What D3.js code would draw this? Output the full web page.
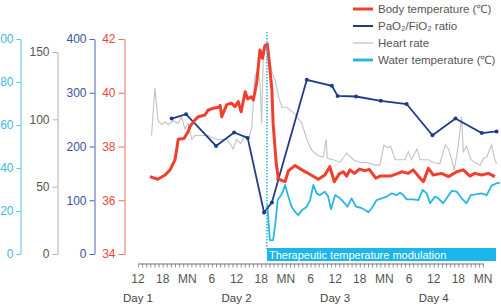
<!DOCTYPE html>
<html lang="en">
<head>
<meta charset="UTF-8">
<title>Vital signs during TTM</title>
<script src="https://d3js.org/d3.v7.min.js"></script>
<style>
    body { margin: 0; background: #fff; overflow: hidden; }
    svg { font-family: "Liberation Sans", Arial, sans-serif; }
    .tick-label { font-size: 12px; }
    .legend-text { font-size: 11.5px; fill: #555; }
</style>
</head>
<body>
<svg id="chart" width="501" height="307"></svg>
<script>
// hours counted from Day 1, 00:00
const bodyTemp = [
    [14.9,36.88],[16.8,36.78],[18.6,36.94],[19.8,37.13],[21.0,37.5],[21.4,37.87],[21.8,38.27],[23.2,38.3],
    [24.2,38.55],[24.7,38.76],[25.9,38.99],[26.7,39.11],[28.3,39.17],[29.1,39.36],[30.3,39.42],[31.6,39.46],
    [32.0,39.53],[32.4,39.11],[33.6,39.56],[34.8,39.61],[35.6,39.48],[36.4,39.67],[37.1,39.29],[38.1,40.04],
    [38.7,39.77],[39.5,39.85],[40.1,39.73],[40.9,40.38],[41.7,41.59],[42.3,41.28],[42.9,41.76],[43.5,41.81],
    [43.9,41.22],[44.6,40.1],[44.9,38.86],[45.4,37.87],[45.7,37.31],[46.2,36.79],[47.8,36.69],[48.6,37.09],
    [50.2,37.29],[51.9,37.13],[53.1,37.03],[55.9,36.78],[57.5,36.94],[58.7,37.25],[59.8,36.69],[61.0,36.98],
    [62.0,37.06],[62.8,36.9],[63.6,37.13],[64.7,37.0],[65.9,37.16],[67.3,37.1],[68.3,37.15],[69.9,36.82],
    [70.9,36.9],[73.4,36.9],[75.0,36.98],[76.2,37.06],[77.8,37.0],[79.0,37.13],[80.7,36.82],[81.5,36.69],
    [82.7,37.19],[83.9,36.94],[85.9,37.0],[87.6,36.88],[89.6,37.06],[91.2,37.13],[92.8,36.9],[94.0,37.0],
    [95.7,36.94],[97.3,37.0],[98.9,36.88]
];
const pfRatio = [
    [20.2,252],[23.7,260],[31.0,201],[35.4,226],[38.7,216],[42.7,77],[44.6,96],[46.2,139],[53.1,324],
    [59.2,313],[60.6,294],[65.1,293],[71.1,285],[77.4,279],[83.7,221],[89.3,252],[95.7,225],[99.3,228]
];
const heartRate = [
    [15.3,88],[16.1,123],[16.9,99],[17.8,96],[18.6,98],[19.4,96],[20.6,99],[21.8,97],[22.6,102],[23.4,93],
    [24.2,97],[25.1,85],[25.9,88],[27.5,88],[29.1,88],[30.3,86],[31.6,85],[33.6,85],[34.4,82],[35.2,78],
    [36.0,85],[37.0,82],[38.1,88],[38.9,85],[39.7,94],[40.5,132],[41.3,137],[41.7,127],[42.1,97],[42.5,146],
    [43.1,155],[43.7,151],[44.6,135],[45.4,129],[46.2,117],[47.0,109],[48.2,109],[49.0,107],[50.2,104],
    [51.9,97],[53.1,85],[54.3,77],[55.9,73],[57.1,72],[57.8,85],[58.1,71],[59.6,70],[61.2,68],[62.8,75],
    [64.4,70],[66.1,68],[67.7,68],[69.7,66],[70.9,66],[71.9,81],[72.7,79],[73.5,80],[74.6,70],[75.8,70],
    [77.0,70],[77.8,76],[78.6,70],[79.9,78],[80.7,70],[82.7,70],[83.9,68],[85.5,67],[86.8,81],[87.6,78],
    [88.4,70],[89.0,62],[90.0,81],[90.8,102],[91.2,76],[92.0,80],[93.1,70],[94.1,68],[95.3,66],[96.1,71],
    [96.9,72],[98.1,81],[98.9,70],[99.3,67]
];
const waterTemp = [
    [43.5,22.8],[44.1,6.5],[44.9,6.5],[45.5,15.0],[46.0,25.1],[46.6,26.7],[47.1,28.2],[47.8,32.1],[48.6,26.7],
    [49.4,22.0],[50.2,19.7],[51.0,18.1],[52.0,20.5],[53.1,22.0],[53.9,25.1],[54.7,32.1],[55.5,28.2],[56.3,27.4],
    [57.5,29.0],[58.3,26.7],[59.0,20.8],[60.0,27.4],[61.2,25.9],[62.0,24.3],[63.0,22.0],[64.0,25.9],[65.1,22.0],
    [66.5,21.3],[67.3,20.5],[68.1,19.4],[68.9,21.3],[70.1,25.1],[71.3,25.9],[72.6,26.7],[73.8,28.2],[75.0,27.4],
    [75.8,28.5],[76.6,27.4],[77.4,25.4],[79.0,25.4],[80.3,25.1],[81.3,29.8],[82.3,28.2],[83.1,23.6],[84.3,26.7],
    [85.1,25.9],[86.3,23.6],[88.4,29.4],[89.6,29.0],[90.8,25.9],[92.0,23.6],[93.0,27.4],[94.5,27.8],[95.7,28.2],
    [96.9,27.4],[98.1,31.8],[99.3,32.9],[100.1,33.2]
];

const xTicks = [12,18,24,30,36,42,48,54,60,66,72,78,84,90,96];
const xTickLabels = ["12","18","MN","6","12","18","MN","6","12","18","MN","6","12","18","MN"];
const dayHours = [12,36,60,84];
const dayLabels = ["Day 1","Day 2","Day 3","Day 4"];
const ttmStart = 43.4;
const ttmLabel = "Therapeutic temperature modulation";

const waterTicks = [0,20,40,60,80,100];
const hrTicks = [0,50,100,150];
const pfTicks = [0,100,200,300,400];
const tempTicks = [34,36,38,40,42];

const legendNames = ["Body temperature (\u2103)","PaO\u2082/FiO\u2082 ratio","Heart rate","Water temperature (\u2103)"];

const colors = { temp: "#f03e2f", pf: "#1f3b8a", hr: "#c2c2c2", water: "#2ab6e4" };

const svg = d3.select("#chart");

const x = d3.scaleLinear().domain([12, 96]).range([138, 483]);
const yTemp = d3.scaleLinear().domain([34, 42]).range([254, 39]);
const yPf = d3.scaleLinear().domain([0, 400]).range([254, 39]);
const yHr = d3.scaleLinear().domain([0, 150]).range([254, 52]);
const yWater = d3.scaleLinear().domain([0, 100]).range([254, 39]);

// y axes
function drawAxis(scale, ticks, xPos, lineColor, textColor, size) {
    const g = svg.append("g")
        .attr("transform", `translate(${xPos},0)`)
        .call(d3.axisLeft(scale).tickValues(ticks).tickSize(size).tickSizeOuter(0).tickPadding(3));
    g.select(".domain").attr("stroke", lineColor);
    g.selectAll(".tick line").attr("stroke", lineColor);
    g.selectAll(".tick text").attr("fill", textColor).attr("class", "tick-label")
        .style("font-family", "Liberation Sans, Arial, sans-serif");
}
drawAxis(yWater, waterTicks, 20.5, "#55c3ea", "#3cb9e6", 4);
drawAxis(yHr, hrTicks, 57.5, "#b0b0b0", "#555", 5);
drawAxis(yPf, pfTicks, 94.5, "#4a66b4", "#3a52a2", 5);
drawAxis(yTemp, tempTicks, 124.5, "#ee6a5e", "#e8473a", 6);

// x axis: hourly comb
const hours = d3.range(12, 97);
const xAxis = svg.append("g").attr("transform", "translate(0,263.5)")
    .call(d3.axisBottom(x).tickValues(hours).tickSize(4).tickSizeOuter(0).tickFormat(""));
xAxis.select(".domain").attr("stroke", "#777");
xAxis.selectAll(".tick line").attr("stroke", "#777").attr("stroke-width", 0.8);

svg.selectAll(".x-label")
    .data(xTicks)
    .join("text")
    .attr("class", "x-label tick-label")
    .attr("x", (d) => x(d))
    .attr("y", 283)
    .attr("text-anchor", "middle")
    .attr("fill", "#555")
    .text((d, i) => xTickLabels[i]);

svg.selectAll(".day-label")
    .data(dayHours)
    .join("text")
    .attr("class", "day-label")
    .attr("x", (d) => x(d))
    .attr("y", 302)
    .attr("text-anchor", "middle")
    .attr("fill", "#444")
    .style("font-size", "11.5px")
    .text((d, i) => dayLabels[i]);

// series
const line = (ys) => d3.line().x((d) => x(d[0])).y((d) => ys(d[1]));

svg.append("path").datum(heartRate)
    .attr("d", line(yHr)).attr("fill", "none")
    .attr("stroke", colors.hr).attr("stroke-width", 1.1);

svg.append("path").datum(waterTemp)
    .attr("d", line(yWater)).attr("fill", "none")
    .attr("stroke", colors.water).attr("stroke-width", 1.8).attr("stroke-linejoin", "round");

svg.append("path").datum(pfRatio)
    .attr("d", line(yPf)).attr("fill", "none")
    .attr("stroke", colors.pf).attr("stroke-width", 1.8);
svg.selectAll(".pf-dot")
    .data(pfRatio)
    .join("circle")
    .attr("class", "pf-dot")
    .attr("cx", (d) => x(d[0]))
    .attr("cy", (d) => yPf(d[1]))
    .attr("r", 2)
    .attr("fill", colors.pf);

svg.append("path").datum(bodyTemp)
    .attr("d", line(yTemp)).attr("fill", "none")
    .attr("stroke", colors.temp).attr("stroke-width", 3).attr("stroke-linejoin", "round");

// TTM marker
svg.append("line")
    .attr("x1", x(ttmStart)).attr("x2", x(ttmStart))
    .attr("y1", 32).attr("y2", 249)
    .attr("stroke", "#29b4e4").attr("stroke-width", 1.5)
    .attr("stroke-dasharray", "1.5,1.5");

svg.append("rect")
    .attr("x", x(ttmStart)).attr("y", 248)
    .attr("width", 496 - x(ttmStart)).attr("height", 13)
    .attr("fill", "#1cb6ea");
svg.append("text")
    .attr("x", x(ttmStart) + 2).attr("y", 258.5)
    .attr("fill", "#fff")
    .style("font-size", "11px")
    .text(ttmLabel);

// legend
const legendColors = [colors.temp, colors.pf, colors.hr, colors.water];
const legendWidths = [3, 2, 1.2, 3];
const legend = svg.selectAll(".legend")
    .data(legendNames)
    .join("g")
    .attr("class", "legend")
    .attr("transform", (d, i) => `translate(353,${9 + i * 17})`);
legend.append("line")
    .attr("x1", 0).attr("x2", 20)
    .attr("stroke", (d, i) => legendColors[i])
    .attr("stroke-width", (d, i) => legendWidths[i]);
legend.append("text")
    .attr("class", "legend-text")
    .attr("x", 25).attr("y", 4)
    .text((d) => d);
</script>
</body>
</html>
